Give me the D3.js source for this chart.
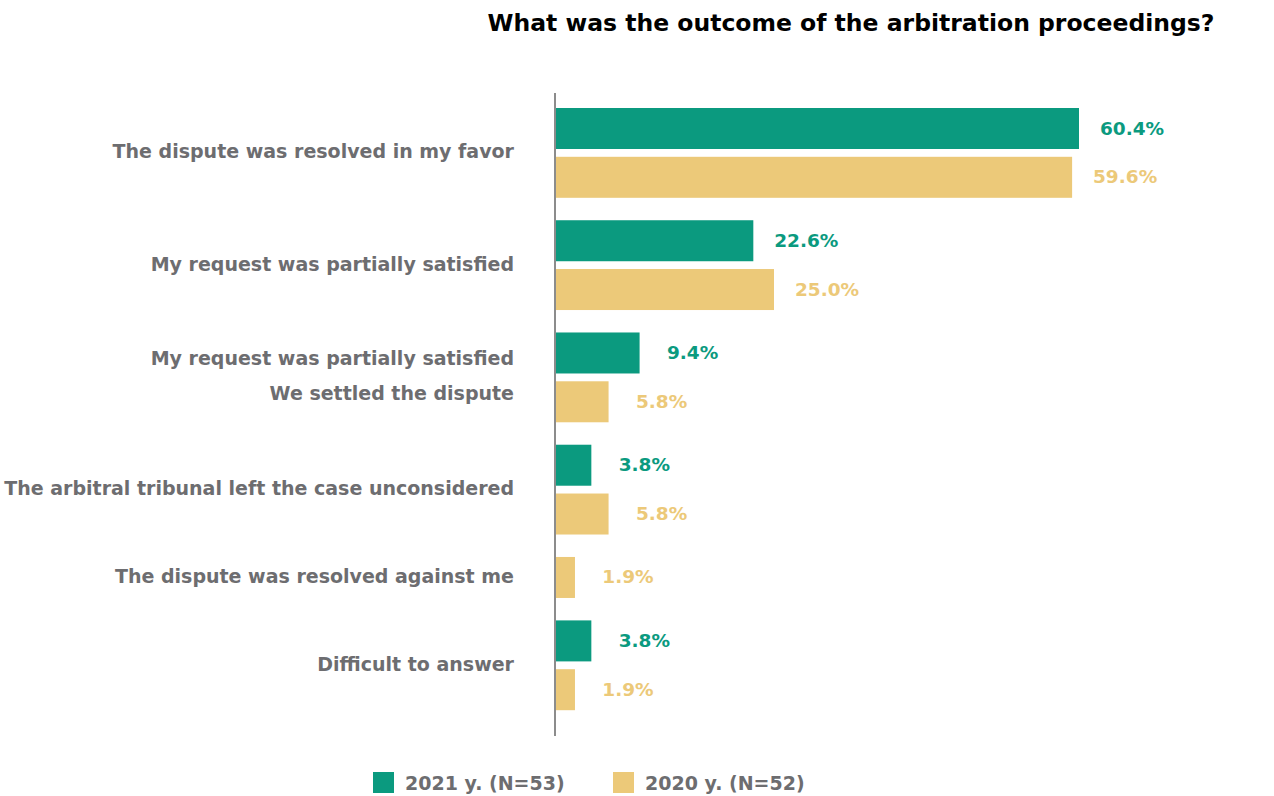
<!DOCTYPE html>
<html>
<head>
<meta charset="utf-8">
<script src="https://cdn.jsdelivr.net/npm/d3@7"></script>
<style>
  html, body { margin: 0; padding: 0; background: #ffffff; }
  svg { display: block; font-family: "DejaVu Sans", sans-serif; }
</style>
</head>
<body>
<svg id="chart" width="1274" height="796"></svg>
<script>
// Survey answers (each category label may span several lines)
const categories = [
  ["The dispute was resolved in my favor"],
  ["My request was partially satisfied"],
  ["My request was partially satisfied", "We settled the dispute"],
  ["The arbitral tribunal left the case unconsidered"],
  ["The dispute was resolved against me"],
  ["Difficult to answer"]
];

const seriesNames = ["2021 y. (N=53)", "2020 y. (N=52)"];
// null = no answer recorded in that year
const values2021 = [60.4, 22.6, 9.4, 3.8, null, 3.8];
const values2020 = [59.6, 25.0, 5.8, 5.8, 1.9, 1.9];

const colors = ["#0b9a7f", "#ecc979"];
const textGray = "#6d6d70";

const svg = d3.select("#chart");

// Title
svg.append("text")
  .attr("x", 851).attr("y", 24)
  .attr("dominant-baseline", "middle")
  .attr("text-anchor", "middle")
  .attr("font-size", 23.5).attr("font-weight", "bold")
  .attr("fill", "#000")
  .text("What was the outcome of the arbitration proceedings?");

// Flatten into one row per drawn bar, grouped by category
const rows = [];
categories.forEach((c, i) => {
  [values2021[i], values2020[i]].forEach((v, s) => {
    if (v !== null && v !== undefined) rows.push({ cat: i, series: s, value: v });
  });
});

// Vertical layout in "row units": 1 unit per bar, extra gap between groups
const groupGap = 0.3;
let u = 0;
rows.forEach((r, k) => {
  if (k > 0 && rows[k - 1].cat !== r.cat) u += groupGap;
  r.unit = u;
  u += 1;
});
const unitStep = 48.8;
const y = d3.scaleLinear().domain([0, 1]).range([108, 108 + unitStep]);
const barH = 41;

const axisX = 555;
const barX0 = 556;
const x = d3.scaleLinear().domain([0, 60.4]).range([558.6, 1079]);

// Bars
svg.append("g").selectAll("rect")
  .data(rows)
  .join("rect")
  .attr("x", barX0)
  .attr("y", d => y(d.unit))
  .attr("width", d => x(d.value) - barX0)
  .attr("height", barH)
  .attr("fill", d => colors[d.series]);

// Value labels
svg.append("g").selectAll("text")
  .data(rows)
  .join("text")
  .attr("x", d => x(d.value) + 53)
  .attr("y", d => y(d.unit) + barH / 2 + 1)
  .attr("text-anchor", "middle")
  .attr("dominant-baseline", "middle")
  .attr("font-size", 18.5).attr("font-weight", "bold")
  .attr("fill", d => colors[d.series])
  .text(d => d.value.toFixed(1) + "%");

// Category labels, centred on their group of bars
const lineGap = 35;
const catGroup = svg.append("g");
categories.forEach((lines, i) => {
  const r = rows.filter(d => d.cat === i);
  const top = y(d3.min(r, d => d.unit));
  const bottom = y(d3.max(r, d => d.unit)) + barH;
  const mid = (top + bottom) / 2;
  const firstY = mid - (lines.length - 1) * lineGap / 2;
  const t = catGroup.append("text")
    .attr("text-anchor", "end")
    .attr("font-size", 19).attr("font-weight", "bold")
    .attr("fill", textGray);
  lines.forEach((line, j) => {
    t.append("tspan")
      .attr("x", 514)
      .attr("y", firstY + j * lineGap)
      .attr("dominant-baseline", "middle")
      .text(line);
  });
});

// Vertical axis line
svg.append("line")
  .attr("x1", axisX).attr("x2", axisX)
  .attr("y1", 93).attr("y2", 736)
  .attr("stroke", "#8c8c8c").attr("stroke-width", 2);

// Legend
const legendX = [373, 613];
const legend = svg.append("g");
seriesNames.forEach((name, s) => {
  legend.append("rect")
    .attr("x", legendX[s]).attr("y", 772)
    .attr("width", 21).attr("height", 21)
    .attr("fill", colors[s]);
  legend.append("text")
    .attr("x", legendX[s] + 32).attr("y", 784)
    .attr("dominant-baseline", "middle")
    .attr("font-size", 19).attr("font-weight", "bold")
    .attr("fill", textGray)
    .text(name);
});
</script>
</body>
</html>
